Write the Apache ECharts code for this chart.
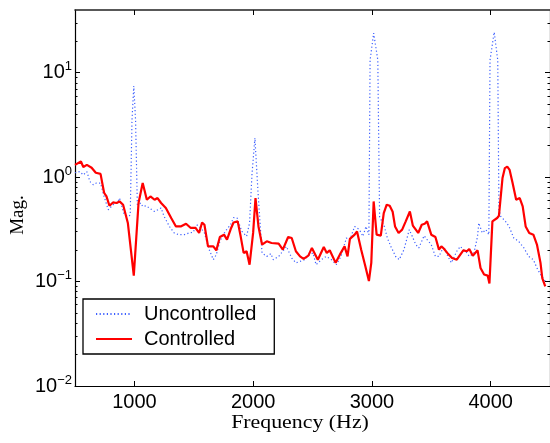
<!DOCTYPE html>
<html><head><meta charset="utf-8">
<script src="https://cdn.jsdelivr.net/npm/echarts@6/dist/echarts.min.js"></script>
<style>html,body{margin:0;padding:0;background:#fff}#c{width:550px;height:443px}</style>
</head><body><div id="c"></div>
<script>
const freqC=[500,550,570,600,640,675,715,745,765,790,820,850,875,905,945,995,1035,1070,1105,1135,1170,1195,1225,1265,1310,1350,1390,1435,1475,1515,1545,1570,1590,1620,1665,1690,1720,1755,1780,1815,1835,1870,1895,1920,1945,1970,2000,2020,2045,2075,2115,2155,2215,2250,2295,2325,2360,2395,2425,2465,2495,2545,2595,2620,2645,2695,2730,2770,2795,2815,2855,2875,2910,2945,2975,2995,3015,3040,3075,3100,3125,3150,3175,3195,3225,3255,3285,3320,3345,3390,3420,3445,3465,3500,3535,3565,3585,3605,3635,3675,3715,3770,3800,3820,3850,3890,3915,3945,3975,3990,4015,4055,4070,4100,4120,4140,4160,4185,4215,4245,4270,4295,4325,4360,4390,4420,4435,4460];
const magC=[1.31,1.41,1.25,1.31,1.23,1.10,1.075,0.708,0.653,0.532,0.572,0.565,0.585,0.544,0.364,0.114,0.565,0.877,0.607,0.653,0.607,0.630,0.565,0.506,0.406,0.337,0.337,0.358,0.326,0.326,0.292,0.368,0.350,0.217,0.217,0.199,0.267,0.281,0.252,0.326,0.368,0.377,0.271,0.188,0.195,0.145,0.292,0.630,0.337,0.226,0.243,0.234,0.231,0.202,0.267,0.261,0.195,0.174,0.165,0.177,0.210,0.162,0.214,0.188,0.199,0.151,0.181,0.217,0.174,0.256,0.281,0.302,0.202,0.140,0.101,0.151,0.585,0.281,0.275,0.453,0.544,0.532,0.466,0.337,0.292,0.314,0.377,0.469,0.343,0.292,0.350,0.358,0.377,0.281,0.267,0.202,0.217,0.207,0.188,0.168,0.162,0.199,0.195,0.205,0.177,0.199,0.135,0.117,0.114,0.0957,0.377,0.406,0.427,0.978,1.22,1.26,1.17,0.877,0.607,0.630,0.524,0.337,0.292,0.281,0.226,0.151,0.108,0.090];
const freqU=[500,540,570,600,625,655,680,715,745,780,820,855,875,910,940,965,980,995,1010,1025,1055,1070,1100,1125,1170,1225,1250,1295,1335,1375,1420,1460,1495,1525,1560,1590,1630,1665,1690,1720,1765,1810,1835,1865,1905,1945,1970,1990,2015,2040,2075,2115,2150,2170,2215,2250,2280,2325,2360,2395,2435,2475,2505,2530,2575,2615,2660,2700,2740,2785,2815,2855,2895,2925,2950,2975,2985,3015,3050,3065,3105,3130,3160,3175,3200,3230,3270,3315,3340,3370,3395,3440,3465,3500,3535,3565,3605,3640,3670,3715,3745,3770,3800,3820,3860,3890,3900,3930,3960,3985,3995,4030,4060,4070,4085,4125,4155,4195,4235,4280,4320,4360,4390,4420,4460];
const magU=[1.10,1.13,1.05,1.13,0.908,0.844,0.877,0.877,0.653,0.487,0.544,0.565,0.630,0.453,0.421,0.43,3.53,7.45,3.53,0.544,0.565,0.524,0.532,0.506,0.469,0.506,0.421,0.337,0.292,0.281,0.281,0.292,0.296,0.350,0.326,0.292,0.202,0.162,0.181,0.243,0.302,0.350,0.409,0.406,0.302,0.271,0.364,1.05,2.37,0.756,0.188,0.174,0.185,0.162,0.174,0.195,0.217,0.168,0.151,0.156,0.162,0.181,0.188,0.145,0.162,0.174,0.162,0.145,0.174,0.261,0.252,0.337,0.314,0.271,0.337,0.281,13.2,23.9,13.2,0.418,0.337,0.261,0.217,0.210,0.174,0.162,0.202,0.314,0.271,0.226,0.210,0.275,0.252,0.226,0.174,0.174,0.217,0.174,0.151,0.195,0.217,0.202,0.188,0.174,0.188,0.271,0.364,0.292,0.314,0.281,13.2,24.4,13.2,0.487,0.421,0.377,0.337,0.261,0.243,0.210,0.174,0.162,0.135,0.117,0.1006];
const xTicks=[1000,2000,3000,4000];
const decadeExps=[-2,-1,0,1];
const seriesNames=['Uncontrolled','Controlled'];
const xLabel='Frequency (Hz)';
const yLabel='Mag.';

const xMin=500,xMax=4500;
const expMin=-2,expMax=1.6;
const minorExps=[];
for(let d=-2;d<=1;d++){for(let k=2;k<=9;k++){const e=d+Math.log10(k);if(e<expMax)minorExps.push(e);}}

const sans='Liberation Sans', serif='Liberation Serif';
const gridRect={left:75,top:10,width:479,height:376};
const lineCol='#000';
const blue='#3d5fff';
const zip=(a,b)=>a.map((v,i)=>[v,b[i]]);

const chart=echarts.init(document.getElementById('c'),null,{renderer:'canvas'});
const hiddenX=(g)=>({gridIndex:g,type:'value',min:xMin,max:xMax,show:false});
const tickY=(g,pos,vals,len,line)=>({gridIndex:g,type:'value',min:expMin,max:expMax,position:pos,
  axisLine:{show:line,onZero:false,lineStyle:{color:lineCol,width:1.2}},
  axisTick:{show:true,inside:true,length:len,customValues:vals,lineStyle:{color:lineCol,width:1}},
  axisLabel:{show:false},splitLine:{show:false}});
chart.setOption({
  animation:false,
  backgroundColor:'#fff',
  grid:[Object.assign({},gridRect),Object.assign({},gridRect),Object.assign({},gridRect)],
  xAxis:[
    {gridIndex:0,type:'value',min:xMin,max:xMax,position:'bottom',
     axisLine:{show:true,onZero:false,lineStyle:{color:lineCol,width:1.2}},
     axisTick:{show:true,inside:true,length:5,customValues:xTicks,lineStyle:{color:lineCol}},
     axisLabel:{customValues:xTicks,fontSize:20,fontFamily:sans,color:'#000',margin:6,formatter:(v)=>String(v)},
     splitLine:{show:false}},
    {gridIndex:0,type:'value',min:xMin,max:xMax,position:'top',
     axisLine:{show:true,onZero:false,lineStyle:{color:'#222',width:1.6}},
     axisTick:{show:true,inside:true,length:5,customValues:xTicks,lineStyle:{color:lineCol}},
     axisLabel:{show:false},splitLine:{show:false}},
    hiddenX(1),hiddenX(2)
  ],
  yAxis:[
    {gridIndex:0,type:'log',logBase:10,min:Math.pow(10,expMin),max:Math.pow(10,expMax),position:'left',
     axisLine:{show:true,onZero:false,lineStyle:{color:lineCol,width:1.2}},
     axisTick:{show:false},splitLine:{show:false},
     axisLabel:{margin:3,showMaxLabel:false,
       formatter:function(v){const e=Math.log10(v);const r=Math.round(e);if(Math.abs(e-r)>1e-6)return '';
         return '{b|10}{s|'+(r<0?'\u2212'+(-r):r)+'}';},
       rich:{b:{fontSize:20,fontFamily:sans,color:'#000'},
             s:{fontSize:13,fontFamily:sans,color:'#000',padding:[0,0,12,0]}}}},
    tickY(0,'right',decadeExps,5,true),
    tickY(1,'left',minorExps,2.5,false),
    tickY(1,'right',minorExps,2.5,false),
    tickY(2,'left',decadeExps,5,false)
  ],
  legend:{orient:'vertical',left:83,top:299,padding:[5,18,5,12],itemGap:5,itemWidth:36,itemHeight:14,
    backgroundColor:'#fff',borderColor:'#000',borderWidth:1.3,borderRadius:0,
    itemStyle:{opacity:0},
    textStyle:{fontSize:20,fontFamily:sans,color:'#000',lineHeight:20,padding:[0,0,0,7]},
    data:seriesNames},
  series:[
    {name:seriesNames[0],type:'line',xAxisIndex:0,yAxisIndex:0,symbol:'none',showSymbol:false,
     lineStyle:{color:blue,width:1.2,type:[1.2,2.4]},itemStyle:{color:blue},
     data:zip(freqU,magU)},
    {name:seriesNames[1],type:'line',xAxisIndex:0,yAxisIndex:0,symbol:'none',showSymbol:false,
     lineStyle:{color:'#ff0000',width:2.2},itemStyle:{color:'#ff0000'},
     data:zip(freqC,magC)}
  ],
  graphic:[
    {type:'text',x:300,y:423,scaleX:1.15,style:{text:xLabel,font:'19px "Liberation Serif"',fill:'#000',align:'center',verticalAlign:'middle'}},
    {type:'text',x:18,y:215,rotation:Math.PI/2,style:{text:yLabel,font:'19px "Liberation Serif"',fill:'#000',align:'center',verticalAlign:'middle'}}
  ]
});
</script></body></html>
